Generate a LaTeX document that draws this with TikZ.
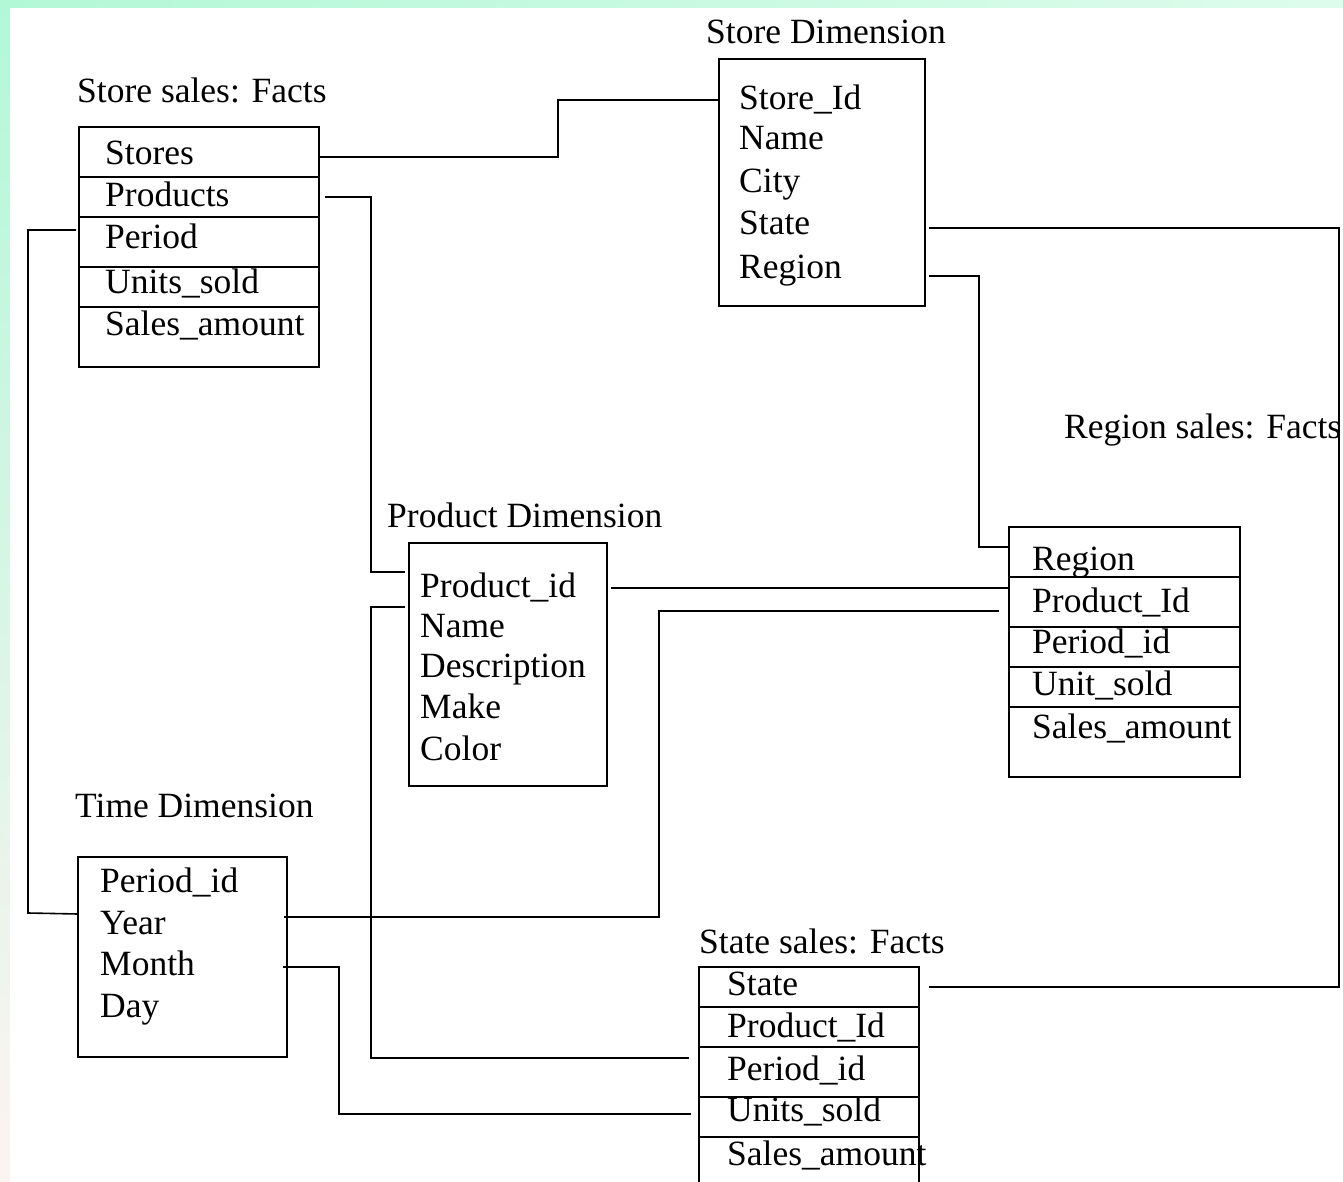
\documentclass[tikz,border=0pt]{standalone}
\usepackage{fontspec}
\setmainfont{Liberation Serif}
\usetikzlibrary{shadings}
\definecolor{mintA}{RGB}{178,248,214}
\definecolor{mintB}{RGB}{222,252,236}
\definecolor{pinkW}{RGB}{253,243,243}
\tikzset{
  tbl/.style={draw, line width=1.6pt, inner sep=0pt, outer sep=0pt, anchor=north west},
  fld/.style={anchor=base west, inner sep=0pt, font=\fontsize{35.5}{40}\selectfont},
  link/.style={line width=1.6pt},
  rowline/.style={line width=1.6pt}
}
\begin{document}
\begin{tikzpicture}[x=1pt,y=-1pt]
\useasboundingbox (0,0) rectangle (1343,1182);
\shade[upper left=mintA, upper right=mintB, lower left=pinkW, lower right=white] (0,0) rectangle (1343,1182);
\fill[white] (10,8) rectangle (1343,1182);

% ---------- Store sales: Facts ----------
\node[fld] (ssT) at (77,103) {Store sales: Facts};
\node[tbl, minimum width=240pt, minimum height=240pt] (ss) at (79,127) {};
\foreach \y in {177,217,267,307} \draw[rowline] (ss.west |- 0,\y) -- (ss.east |- 0,\y);
\node[fld] (ssA) at (105,165) {Stores};
\node[fld] (ssB) at (105,207) {Products};
\node[fld] (ssC) at (105,249) {Period};
\node[fld] (ssD) at (105,293) {Units\_sold};
\node[fld] (ssE) at (105,335) {Sales\_amount};

% ---------- Store Dimension ----------
\node[fld] (sdT) at (706,44) {Store Dimension};
\node[tbl, minimum width=206pt, minimum height=247pt] (sd) at (719,59) {};
\node[fld] (sdA) at (739,110) {Store\_Id};
\node[fld] (sdB) at (739,150) {Name};
\node[fld] (sdC) at (739,193) {City};
\node[fld] (sdD) at (739,235) {State};
\node[fld] (sdE) at (739,278) {Region};

% ---------- Product Dimension ----------
\node[fld] (pdT) at (387,527) {Product Dimension};
\node[tbl, minimum width=198pt, minimum height=243pt] (pd) at (409,543) {};
\node[fld] (pdA) at (420,597) {Product\_id};
\node[fld] (pdB) at (420,637) {Name};
\node[fld] (pdC) at (420,677) {Description};
\node[fld] (pdD) at (420,718) {Make};
\node[fld] (pdE) at (420,760) {Color};

% ---------- Region sales: Facts ----------
\node[fld] (rsT) at (1064,438) {Region sales: Facts};
\node[tbl, minimum width=231pt, minimum height=250pt] (rs) at (1009,527) {};
\foreach \y in {577,627,667,707} \draw[rowline] (rs.west |- 0,\y) -- (rs.east |- 0,\y);
\node[fld] (rsA) at (1032,570) {Region};
\node[fld] (rsB) at (1032,612) {Product\_Id};
\node[fld] (rsC) at (1032,653) {Period\_id};
\node[fld] (rsD) at (1032,695) {Unit\_sold};
\node[fld] (rsE) at (1032,738) {Sales\_amount};

% ---------- Time Dimension ----------
\node[fld] (tdT) at (75,817) {Time Dimension};
\node[tbl, minimum width=209pt, minimum height=200pt] (td) at (78,857) {};
\node[fld] (tdA) at (100,892) {Period\_id};
\node[fld] (tdB) at (100,934) {Year};
\node[fld] (tdC) at (100,975) {Month};
\node[fld] (tdD) at (100,1017) {Day};

% ---------- State sales: Facts ----------
\node[fld] (stT) at (699,953) {State sales: Facts};
\node[tbl, minimum width=220pt, minimum height=240pt] (st) at (699,967) {};
\foreach \y in {1007,1047,1097,1137} \draw[rowline] (st.west |- 0,\y) -- (st.east |- 0,\y);
\node[fld] (stA) at (727,995) {State};
\node[fld] (stB) at (727,1037) {Product\_Id};
\node[fld] (stC) at (727,1080) {Period\_id};
\node[fld] (stD) at (727,1121) {Units\_sold};
\node[fld] (stE) at (727,1165) {Sales\_amount};

% ---------- connectors ----------
\draw[link] (ss.east |- 0,157) -- (558,157) -- (558,100) -- (sd.west |- 0,100);
\draw[link] ([xshift=6pt]ss.east |- 0,197) -- (371,197) -- (371,572) -- ([xshift=-4pt]pd.west |- 0,572);
\draw[link] ([xshift=-3pt]ss.west |- 0,230) -- (28,230) -- (28,913) -- (td.west |- 0,914);
\draw[link] ([xshift=4pt]sd.east |- 0,228) -- (1339,228) -- (1339,987) -- ([xshift=10pt]st.east |- 0,987);
\draw[link] ([xshift=4pt]sd.east |- 0,276) -- (979,276) -- (979,547) -- (rs.west |- 0,547);
\draw[link] ([xshift=4pt]pd.east |- 0,588) -- (rs.west |- 0,588);
\draw[link] ([xshift=-3pt]td.east |- 0,917) -- (659,917) -- (659,611) -- ([xshift=-10pt]rs.west |- 0,611);
\draw[link] ([xshift=-4pt]pd.west |- 0,607) -- (371,607) -- (371,1058) -- ([xshift=-10pt]st.west |- 0,1058);
\draw[link] ([xshift=-4pt]td.east |- 0,967) -- (339,967) -- (339,1114) -- ([xshift=-8pt]st.west |- 0,1114);
\end{tikzpicture}
\end{document}
